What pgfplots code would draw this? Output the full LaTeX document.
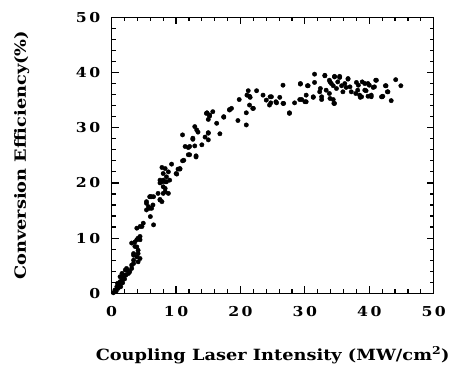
\documentclass[border=0pt]{standalone}
\usepackage{fontspec}
\setmainfont{DejaVu Serif}
\newfontfamily\wide[FakeStretch=1.15]{DejaVu Serif}
\usepackage{pgfplots}
\pgfplotsset{compat=1.18}
\newcommand{\dd}[2]{#1\kern2.5bp#2}
\begin{document}
\begin{tikzpicture}
\begin{axis}[
  scale only axis,
  width=322bp, height=276bp,
  xmin=0, xmax=50, ymin=0, ymax=50,
  xtick={0,10,20,30,40,50},
  ytick={0,10,20,30,40,50},
  xticklabels={0,\dd10,\dd20,\dd30,\dd40,\dd50},
  yticklabels={0,\dd10,\dd20,\dd30,\dd40,\dd50},
  minor tick num=4,
  tick align=inside,
  major tick length=7bp,
  minor tick length=4bp,
  axis line style={line width=1.5bp},
  every tick/.style={black, line width=1.2bp},
  tick label style={font=\wide\fontsize{13.7}{16}\selectfont\bfseries},
  /pgf/number format/assume math mode=true,
  xticklabel style={yshift=-10bp},
  yticklabel style={xshift=-8bp},
  xlabel={Coupling Laser Intensity (MW/cm\textsuperscript{2})},
  ylabel={Conversion Efficiency(\%)},
  label style={font=\wide\fontsize{15.5}{18}\selectfont\bfseries},
  xlabel style={at={(axis description cs:0.5,-0.2246)}, anchor=center},
  ylabel style={at={(axis description cs:-0.2795,0.5)}, anchor=center},
]
\addplot[only marks, mark=*, mark size=2.2pt, black] coordinates {
(33.1,39.5)(44.1,38.7)(44.9,37.6)(43.4,34.9)(42.8,36.5)(42.6,37.6)(42.0,35.6)
(41.0,38.6)(40.6,37.3)(40.3,35.6)(39.8,38.0)(39.3,36.8)(38.9,38.3)(38.3,37.7)
(37.9,36.2)(38.6,35.5)(36.7,38.8)(36.4,37.3)(35.4,39.3)(34.6,39.3)(34.4,37.6)
(33.9,38.3)(34.6,34.4)(33.9,35.3)(32.6,35.6)(32.4,37.1)(31.5,39.7)(31.3,35.6)
(30.4,37.6)(30.2,34.7)(29.3,38.0)(29.2,35.1)(28.4,34.5)(27.6,32.6)(26.6,37.7)
(26.6,34.4)(26.1,35.5)(25.5,34.7)(24.7,34.5)(24.6,35.6)(24.0,35.0)(23.5,35.9)
(22.5,36.7)(21.9,33.5)(21.5,35.5)(21.2,36.7)(21.0,35.9)(21.4,34.1)(20.9,32.7)
(20.9,30.5)(19.8,35.1)(19.6,31.3)(18.6,33.5)(18.3,33.2)(17.4,32.0)(16.8,28.9)
(16.3,30.8)(15.7,32.9)(15.2,32.3)(14.8,32.7)(15.0,27.8)(15.0,29.0)(14.0,26.9)
(13.2,29.6)(12.9,30.2)(12.6,28.1)(13.1,24.9)(12.1,26.6)(11.9,25.1)(11.4,26.6)
(11.0,28.7)(11.0,24.0)(10.3,22.5)(10.0,21.7)(9.3,23.4)(8.8,22.0)(8.5,21.1)
(8.3,22.6)(7.8,22.8)(8.0,21.7)(8.3,20.2)(7.8,20.2)(7.5,20.5)(8.0,19.3)
(8.3,18.4)(7.2,18.1)(7.5,16.9)(6.5,17.5)(6.0,17.5)(5.4,16.6)(5.4,15.1)
(5.7,15.7)(6.2,15.4)(6.0,13.9)(6.5,12.4)(4.9,12.7)(4.4,12.1)(3.9,9.7)
(4.4,10.3)(3.6,8.5)(4.1,7.2)(4.4,6.3)(3.1,9.1)(3.4,7.2)(3.4,5.4)(3.1,4.5)
(2.3,4.3)(2.2,3.3)(1.8,3.3)(1.6,2.4)(1.2,1.8)(0.8,1.2)(0.5,0.6)(0.26,0.1)
(26.7,34.4)(27.6,32.7)(29.3,37.9)(29.5,35.1)(30.0,34.7)(30.2,35.9)(30.5,37.6)
(31.3,35.5)(31.5,38.2)(32.3,36.5)(32.6,35.1)(33.1,39.4)(33.3,36.8)(33.8,38.6)
(33.8,36.2)(34.1,38.0)(34.4,35.1)(34.5,34.4)(34.6,39.2)(34.9,37.1)(35.1,38.3)
(35.4,39.1)(35.7,37.6)(35.9,36.5)(36.2,38.0)(36.7,38.9)(37.0,37.4)(37.2,36.5)
(38.0,38.2)(38.2,36.8)(38.5,35.9)(38.8,35.6)(39.3,38.0)(39.5,36.7)(39.8,35.7)
(40.0,37.7)(40.3,35.9)(40.8,37.4)(41.1,38.6)(41.9,35.6)(42.1,35.7)(42.5,37.6)
(42.9,36.5)
(10.6,22.6)(8.5,20.2)(9.0,20.5)(8.8,18.1)(8.0,18.1)(7.8,16.6)(5.9,17.5)
(5.4,16.3)(5.9,15.4)(4.7,12.1)(3.9,11.8)(4.1,10.0)(4.4,9.7)(3.6,9.3)(3.9,8.4)
(4.1,7.8)(3.4,6.9)(3.9,6.6)(4.1,5.7)(3.4,6.0)(3.1,5.1)(2.3,4.5)(2.6,3.6)
(1.6,3.6)(1.8,2.7)(1.3,2.1)(1.0,1.5)(1.3,3.0)(2.1,4.2)(1.0,0.9)
(21.4,35.7)(24.8,35.6)(24.5,34.1)(25.6,34.5)(22.0,33.5)(18.3,33.3)(17.4,31.9)
(14.7,32.6)(15.2,32.1)(15.0,31.5)(13.4,29.2)(15.0,29.1)(14.5,28.3)(12.6,27.9)
(11.9,26.4)(12.9,26.7)(13.1,24.7)(12.1,25.1)(11.2,24.1)(10.6,22.5)(10.1,21.6)
(8.0,20.5)(7.5,20.0)(8.3,19.0)(7.5,17.0)(6.2,17.5)(6.4,16.0)
(0.7,0.4)(1.4,1.2)(0.9,1.8)(1.7,1.9)(2.0,2.6)(2.8,3.9)(2.5,4.1)
};
\end{axis}
\pgfresetboundingbox
\useasboundingbox (-111.7bp,-72.7bp) rectangle (340.3bp,293.3bp);
\end{tikzpicture}
\end{document}
